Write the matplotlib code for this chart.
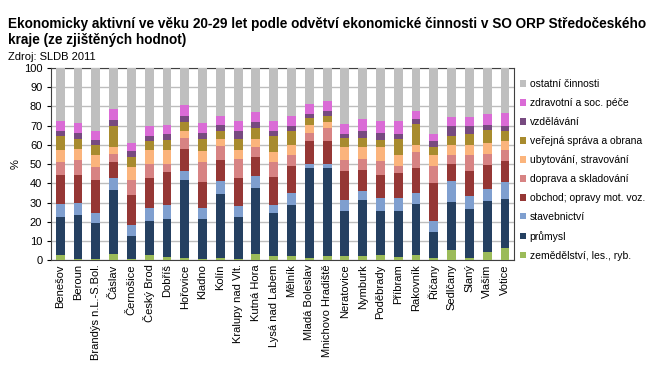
import numpy as np
import matplotlib
matplotlib.use("Agg")
import matplotlib.pyplot as plt

plt.rcParams['font.family'] = ['Liberation Sans', 'DejaVu Sans']

# kategorie (SO ORP)
obvody = ["Benešov", "Beroun", "Brandýs n.L.-S.Bol.", "Čáslav", "Černošice", "Český Brod",
          "Dobříš", "Hořovice", "Kladno", "Kolín", "Kralupy nad Vlt.", "Kutná Hora",
          "Lysá nad Labem", "Mělník", "Mladá Boleslav", "Mnichovo Hradiště", "Neratovice",
          "Nymburk", "Poděbrady", "Příbram", "Rakovník", "Říčany", "Sedlčany", "Slaný",
          "Vlašim", "Votice"]

# podíly v %
zemedelstvi = [2.6, 0.5, 0.5, 3.1, 0.5, 2.6, 1.6, 1.0, 0.5, 1.0, 0.5, 3.1, 2.1,
               2.1, 1.0, 2.1, 2.1, 2.1, 2.6, 1.6, 2.6, 1.0, 5.2, 1.0, 4.2, 6.2]
prumysl = [19.7, 22.9, 18.7, 33.2, 12.0, 17.6, 19.7, 40.5, 20.8, 33.3, 21.8, 34.3, 22.3,
           26.4, 46.8, 45.7, 23.3, 29.0, 22.8, 23.8, 26.5, 13.5, 24.9, 25.5, 26.4, 25.5]
stavebnictvi = [6.8, 6.2, 5.2, 6.3, 5.7, 6.8, 7.2, 4.7, 5.7, 6.7, 5.7, 6.2, 4.1,
                6.3, 2.5, 2.5, 5.7, 4.7, 6.8, 6.8, 5.7, 5.7, 10.9, 6.7, 6.3, 8.8]
obchod = [15.0, 15.0, 17.1, 8.3, 15.5, 15.6, 17.2, 11.9, 13.5, 11.4, 14.6, 9.9, 14.6,
          14.0, 11.5, 12.0, 15.1, 11.4, 12.4, 13.0, 13.0, 19.8, 9.3, 13.0, 12.9, 10.9]
doprava = [6.8, 7.8, 6.8, 4.6, 7.8, 7.7, 4.6, 5.7, 10.4, 6.8, 10.3, 5.2, 7.8,
           6.2, 4.6, 6.7, 5.7, 5.7, 6.8, 3.6, 8.3, 8.8, 4.7, 8.8, 5.7, 6.2]
ubytovani = [6.2, 5.7, 6.7, 3.2, 6.8, 7.3, 7.3, 3.2, 5.7, 4.1, 4.7, 4.6, 5.2,
             4.7, 4.2, 3.1, 6.8, 5.8, 7.3, 5.7, 4.1, 5.7, 5.2, 4.7, 5.7, 4.2]
sprava = [7.3, 5.2, 4.7, 11.4, 5.2, 4.7, 5.2, 5.1, 6.7, 4.2, 5.7, 5.7, 8.8,
          7.3, 3.6, 3.2, 5.1, 5.1, 4.1, 8.8, 10.9, 4.2, 4.7, 6.2, 6.8, 5.2]
vzdelavani = [2.6, 3.1, 3.1, 3.1, 3.1, 2.6, 3.1, 3.2, 3.1, 3.1, 3.7, 3.1, 2.6,
              3.1, 2.1, 2.6, 2.1, 3.7, 3.6, 2.6, 2.6, 3.1, 4.7, 3.7, 2.6, 3.1]
zdravotni = [5.7, 5.2, 4.2, 5.7, 4.6, 4.7, 4.7, 5.7, 5.2, 4.7, 5.7, 5.2, 5.2,
             5.2, 5.2, 5.1, 5.2, 6.2, 6.3, 6.8, 4.2, 4.1, 5.1, 5.1, 5.7, 6.7]
ostatni = [27.3, 28.4, 33.0, 21.1, 38.8, 30.4, 29.4, 19.0, 28.4, 24.7, 27.3, 22.7, 27.3,
           24.7, 18.5, 17.0, 28.9, 26.3, 27.3, 27.3, 22.1, 34.1, 25.3, 25.3, 23.7, 23.2]

nazvy = ["zemědělství, les., ryb.", "průmysl", "stavebnictví", "obchod; opravy mot. voz.",
         "doprava a skladování", "ubytování, stravování", "veřejná správa a obrana",
         "vzdělávání", "zdravotní a soc. péče", "ostatní činnosti"]
barvy = ["#9BBB59", "#254061", "#7F9FCF", "#953735", "#D78383", "#FBB47C",
         "#A88B2E", "#774A80", "#DA6BD6", "#BFBFBF"]

serie = [zemedelstvi, prumysl, stavebnictvi, obchod, doprava, ubytovani,
         sprava, vzdelavani, zdravotni, ostatni]

fig = plt.figure(figsize=(6.58, 3.68), dpi=100)
ax = fig.add_axes([0.078, 0.293, 0.703, 0.522])

x = np.arange(len(obvody))
dole = np.zeros(len(obvody))
for hodnoty, nazev, barva in zip(serie, nazvy, barvy):
    ax.bar(x, hodnoty, 0.5, bottom=dole, color=barva, label=nazev, zorder=3)
    dole += np.array(hodnoty)

ax.set_ylim(0, 100)
ax.set_xlim(-0.5, len(obvody) - 0.5)
ax.set_yticks(np.arange(0, 101, 10))
ax.yaxis.grid(True, color="#BDBDBD", linewidth=1, zorder=0)
ax.set_xticks(x)
ax.set_xticklabels(obvody, rotation=90, fontsize=8)
ax.tick_params(axis="y", labelsize=8, length=3)
ax.tick_params(axis="x", length=0, pad=3)
for s in ax.spines.values():
    s.set_color("#404040")
ax.set_ylabel("%", fontsize=8, rotation=90, labelpad=2)

h, l = ax.get_legend_handles_labels()
ax.legend(h[::-1], l[::-1], loc="center left", bbox_to_anchor=(1.0, 0.47),
          frameon=False, fontsize=7.5, handlelength=0.6, handleheight=0.6,
          handletextpad=0.3, labelspacing=0.86, borderaxespad=0.2)

fig.text(0.012, 0.955, "Ekonomicky aktivní ve věku 20-29 let podle odvětví ekonomické činnosti v SO ORP Středočeského\nkraje (ze zjištěných hodnot)",
         fontsize=9.8, fontweight="bold", va="top", ha="left", linespacing=1.22,
         family=["Liberation Sans Narrow", "Liberation Sans", "DejaVu Sans"])
fig.text(0.012, 0.858, "Zdroj: SLDB 2011", fontsize=8, va="top", ha="left")

fig.savefig("out.png", dpi=100)
